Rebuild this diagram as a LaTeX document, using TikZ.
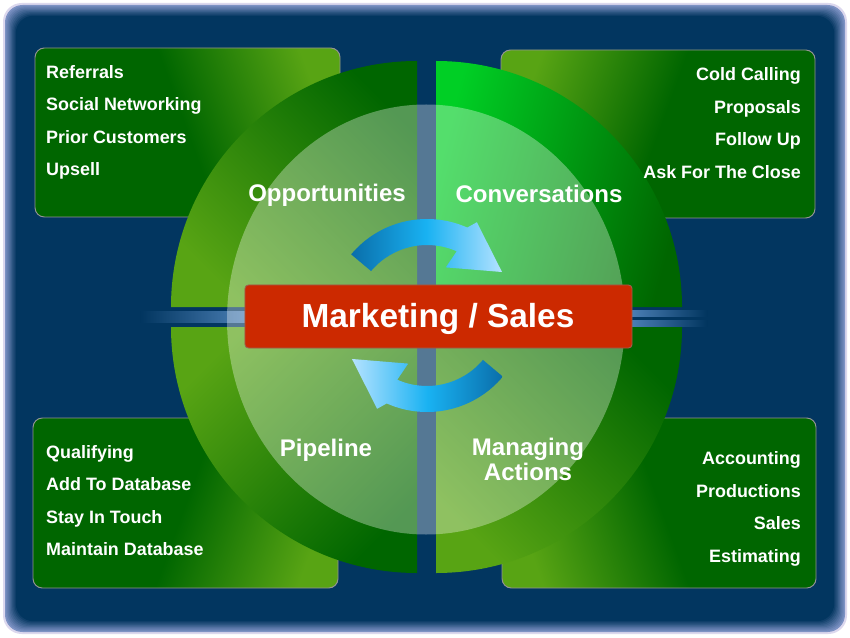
\documentclass[tikz,border=0pt]{standalone}
\usepackage{fontspec}
\setmainfont{Liberation Sans}
\usepackage{tikz}
\usetikzlibrary{positioning,calc,shapes,shapes.geometric}

\definecolor{navyc}{HTML}{01355F}
\definecolor{glowc}{HTML}{7D92C4}
\definecolor{rimc}{HTML}{DCD8EE}
\definecolor{ringdark}{HTML}{006600}
\definecolor{ringlight}{HTML}{58A414}
\definecolor{ringbright}{HTML}{00CF25}
\definecolor{barred}{HTML}{CC2900}
\definecolor{arrowdark}{HTML}{0A6EAA}
\definecolor{arrowmid}{HTML}{19B2F2}
\definecolor{arrowlight}{HTML}{B4E2FF}
\definecolor{stripec}{HTML}{4A7EB4}

\tikzset{
	listbox/.style={draw=gray!85, line width=0.8pt, rounded corners=8},
	itemtext/.style={text=white, font=\fontsize{15.3}{18}\selectfont\bfseries, inner sep=0pt},
	quadlabel/.style={text=white, font=\fontsize{20.5}{21.3}\selectfont\bfseries, align=center, inner sep=0pt},
	bigbar/.style={draw=gray!60!barred, line width=0.8pt, fill=barred, rounded corners=3, minimum width=11.61cm, minimum height=1.89cm, inner sep=0pt},
}

\begin{document}
\begin{tikzpicture}[x=0.03cm, y=0.03cm]
	\useasboundingbox (0,0) rectangle (850,637);
	\fill[white] (0,0) rectangle (850,637);
	\fill[rimc, rounded corners=16] (3,3) rectangle (847,634);
	\foreach \i [evaluate=\i as \p using int(\i*11)] in {0,...,9}
		\fill[navyc!\p!glowc, rounded corners=15] (5+\i*1.2, 5+\i*1.2) rectangle (845-\i*1.2, 632-\i*1.2);

	\shade[listbox, top color=ringlight, bottom color=ringdark, middle color=ringdark, shading angle=-70] (35,420) rectangle (340,589);
	\shade[listbox, top color=ringlight, bottom color=ringdark, middle color=ringdark, shading angle=70] (501,419) rectangle (815,587);
	\shade[listbox, top color=ringdark, bottom color=ringlight, middle color=ringdark, shading angle=70] (33,49) rectangle (338,219);
	\shade[listbox, top color=ringdark, bottom color=ringlight, middle color=ringdark, shading angle=-70] (502,49) rectangle (816,219);

	\coordinate (qtl) at (417,330);
	\coordinate (qtr) at (436,330);
	\coordinate (qbl) at (417,310);
	\coordinate (qbr) at (436,310);
	\shade[top color=ringdark, bottom color=ringlight, shading angle=-45] (qtl) -- ++(-246,0) arc[start angle=180, end angle=90, radius=246] -- cycle;
	\shade[top color=ringbright, bottom color=ringdark, shading angle=75] (qtr) -- ++(0,246) arc[start angle=90, end angle=0, radius=246] -- cycle;
	\shade[top color=ringlight, bottom color=ringdark, shading angle=45] (qbl) -- ++(-246,0) arc[start angle=180, end angle=270, radius=246] -- cycle;
	\shade[top color=ringdark, bottom color=ringlight, shading angle=-45] (qbr) -- ++(246,0) arc[start angle=0, end angle=-90, radius=246] -- cycle;

	\shade[left color=navyc, right color=stripec] (140,315) rectangle (246,326);
	\shade[left color=stripec, right color=navyc] (632,321) rectangle (707,327);
	\shade[left color=stripec, right color=navyc] (632,311) rectangle (707,317);

	\fill[white, opacity=0.33] (426,317.5) ellipse[x radius=199, y radius=215];

	\begin{scope}[shift={(427,319)}]
		\shade[left color=arrowdark, right color=arrowlight, middle color=arrowmid] (140:99) arc[start angle=140, end angle=66, radius=99] -- (62.5:108) -- (31.5:88) -- (69.6:54) -- (66:73) arc[start angle=66, end angle=140, radius=73] -- cycle;
	\end{scope}
	\begin{scope}[shift={(427,324)}]
		\shade[left color=arrowlight, right color=arrowdark, middle color=arrowmid] (320:99) arc[start angle=320, end angle=246, radius=99] -- (242.5:108) -- (211.5:88) -- (249.6:54) -- (246:73) arc[start angle=246, end angle=320, radius=73] -- cycle;
	\end{scope}

	\node [bigbar] (bar) at (438.5,320.5) {};
	\node [text=white, inner sep=0pt, font=\fontsize{28.5}{30}\selectfont\bfseries, anchor=base] (mktg) at (438,310) {Marketing / Sales};

	\node [quadlabel, anchor=base] (opp) at (327,435) {Opportunities};
	\node [quadlabel, anchor=base] (conv) at (539,434) {Conversations};
	\node [quadlabel, anchor=base] (pipe) at (326,181) {Pipeline};
	\node [quadlabel, anchor=base] (manage) at (528,157) {Managing\\Actions};

	\node [itemtext, anchor=base west] (ref) at (46,558) {Referrals};
	\node [itemtext, anchor=base west] (social) at (46,526) {Social Networking};
	\node [itemtext, anchor=base west] (prior) at (46,493) {Prior Customers};
	\node [itemtext, anchor=base west] (upsell) at (46,461) {Upsell};

	\node [itemtext, anchor=base east] (cold) at (801,556) {Cold Calling};
	\node [itemtext, anchor=base east] (prop) at (801,523) {Proposals};
	\node [itemtext, anchor=base east] (follow) at (801,491) {Follow Up};
	\node [itemtext, anchor=base east] (close) at (801,458) {Ask For The Close};

	\node [itemtext, anchor=base west] (qual) at (46,179) {Qualifying};
	\node [itemtext, anchor=base west] (adddb) at (46,147) {Add To Database};
	\node [itemtext, anchor=base west] (touch) at (46,114) {Stay In Touch};
	\node [itemtext, anchor=base west] (maindb) at (46,82) {Maintain Database};

	\node [itemtext, anchor=base east] (acct) at (801,173) {Accounting};
	\node [itemtext, anchor=base east] (prod) at (801,140) {Productions};
	\node [itemtext, anchor=base east] (sales) at (801,108) {Sales};
	\node [itemtext, anchor=base east] (est) at (801,75) {Estimating};
\end{tikzpicture}
\end{document}
